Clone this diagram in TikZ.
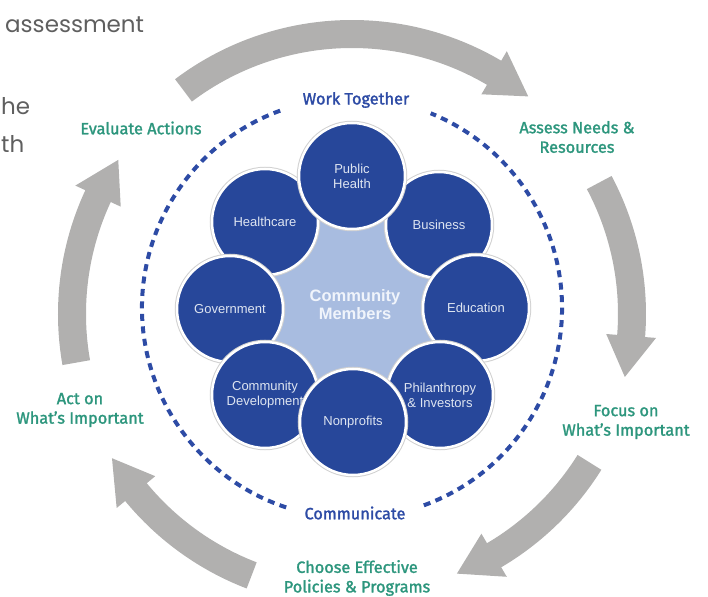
\documentclass[tikz,border=0pt]{standalone}
\usepackage{fontspec}
\setmainfont{Liberation Sans}
\newfontfamily\stagefont{Fira Sans}[FakeBold=1.6]
\newfontfamily\pagefont{Poppins}
\usetikzlibrary{positioning,calc,backgrounds}
\definecolor{memberblue}{RGB}{39,71,154}
\definecolor{coreblue}{RGB}{168,188,224}
\definecolor{stageteal}{RGB}{45,150,125}
\definecolor{ringblue}{RGB}{45,75,165}
\definecolor{flowgray}{RGB}{177,176,175}
\definecolor{membertext}{RGB}{222,229,241}
\definecolor{coretext}{RGB}{240,244,251}
\definecolor{pagegray}{RGB}{95,95,95}
\tikzstyle{member}=[circle,fill=memberblue,draw=white,line width=2.5pt,minimum size=106pt,inner sep=0pt,align=center,text=membertext,font=\fontsize{13}{15}\selectfont,preaction={draw=black!18,line width=4.5pt}]
\tikzstyle{core}=[align=center,text=coretext,font=\bfseries\fontsize{16.5}{18}\selectfont]
\tikzstyle{stage}=[align=center,text=stageteal,font=\stagefont\fontsize{16.3}{19.5}\selectfont]
\tikzstyle{ringlabel}=[text=ringblue,font=\stagefont\fontsize{16.3}{19}\selectfont]
\tikzstyle{ringdash}=[draw=ringblue,line width=4pt,dash pattern=on 7pt off 5.5pt]
\tikzstyle{flow}=[fill=flowgray]
\tikzstyle{pagetext}=[text=pagegray,font=\pagefont\fontsize{23}{28}\selectfont,inner sep=0pt]
% block arrow along the outer ring, clockwise from #1 to #2 (degrees)
\newcommand{\flowarrow}[2]{%
  \fill[flow] ({#1}:\ringout) arc[start angle={#1}, end angle={#2+8.5}, radius=\ringout]
    -- ({#2+8.5}:{\ringout+11}) -- ({#2}:\ringmid) -- ({#2+8.5}:{\ringin-11})
    -- ({#2+8.5}:\ringin) arc[start angle={#2+8.5}, end angle={#1}, radius=\ringin] -- cycle;}

\begin{document}
\begin{tikzpicture}[x=1pt,y=1pt]
    \useasboundingbox (-352,-282) rectangle (356,314);
    \def\ringout{294}
    \def\ringin{266}
    \def\ringmid{280}

    % text of the page round the figure
    \node[pagetext,anchor=base west] (pageone) at (-347,281) {assessment};
    \node[pagetext,anchor=base west] (pagetwo) at (-351,199) {he};
    \node[pagetext,anchor=base west] (pagethree) at (-351,161) {th};

    % outer cycle
    \flowarrow{127}{51}
    \flowarrow{28}{-13}
    \flowarrow{-32}{-68}
    \flowarrow{-111}{-149}
    \flowarrow{-170}{-213.4}

    \node[stage] (evaluate) at (-211,186) {Evaluate Actions};
    \node[stage] (assessneeds) at (225,177) {Assess Needs \&\\Resources};
    \node[stage] (focus) at (274,-108) {Focus on\\What’s Important};
    \node[stage] (choose) at (5,-264) {Choose Effective\\Policies \& Programs};
    \node[stage] (act) at (-272,-96) {Act on\\What’s Important};

    % dashed ring
    \draw[ringdash] (0,6) ++(110:210) arc[start angle=110, end angle=253, radius=210];
    \draw[ringdash] (0,6) ++(-70:210) arc[start angle=-70, end angle=68, radius=210];
    \node[ringlabel] (work) at (4,214) {Work Together};
    \node[ringlabel] (communicate) at (3,-199) {Communicate};

    % members
    \node[member] (healthcare) at (-87,92) {Healthcare};
    \node[member] (government) at (-122,5) {Government};
    \node[member] (development) at (-87,-81) {Community\\Development};
    \node[member] (business) at (87,89) {Business};
    \node[member] (education) at (124,6) {Education};
    \node[member] (philanthropy) at (88,-81) {Philanthropy\\\& Investors};
    \node[member] (nonprofits) at (1,-108) {Nonprofits};
    \node[member] (publichealth) at (0,138) {Public\\Health};

    \begin{scope}[on background layer]
        \fill[coreblue] (publichealth.center) -- (business.center) -- (education.center)
            -- (philanthropy.center) -- (nonprofits.center) -- (development.center)
            -- (government.center) -- (healthcare.center) -- cycle;
    \end{scope}
    \node[core] (members) at (3,9) {Community\\Members};
\end{tikzpicture}
\end{document}
